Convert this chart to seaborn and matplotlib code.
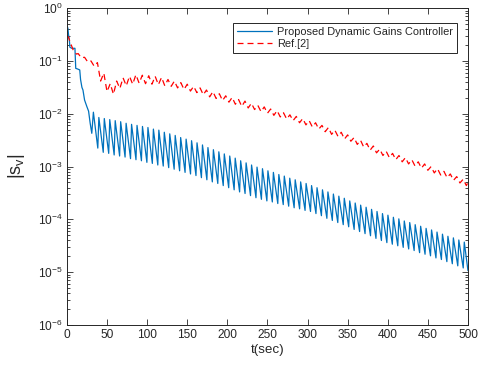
import numpy as np
import pandas as pd
import matplotlib
matplotlib.use("Agg")
import matplotlib.pyplot as plt
from matplotlib.ticker import LogLocator, FixedLocator, LogFormatterMathtext, NullFormatter
import seaborn as sns

# ---------------------------------------------------------------------------
# Data: |s_v| for the two controllers (values stored as log10 exponents)
# ---------------------------------------------------------------------------
series_names = ["Proposed Dynamic Gains Controller", "Ref.[2]"]

# Proposed controller: transient before the oscillation sets in
blue_start_t = [0, 0.5, 1.2, 2, 3, 3.7, 6, 10, 11, 13, 16, 17, 18.7, 20, 22, 25, 27, 29, 31]
blue_start_log10 = [-0.45, -0.35, -0.38, -0.50, -0.60, -0.74, -0.76, -0.76, -1.14, -1.15,
                    -1.17, -1.35, -1.50, -1.55, -1.74, -1.87, -1.95, -2.18, -2.37]

# Proposed controller: oscillation peaks and troughs
blue_peak_t = [33.0, 39.8, 46.6, 53.4, 60.2, 67.0, 73.8, 80.6, 87.4, 94.2, 101.0, 107.8,
               114.6, 121.4, 128.2, 135.0, 141.8, 148.6, 155.4, 162.2, 169.0, 175.8, 182.6,
               189.4, 196.2, 203.0, 209.8, 216.6, 223.4, 230.2, 237.0, 243.8, 250.6, 257.4,
               264.2, 271.0, 277.8, 284.6, 291.4, 298.2, 305.0, 311.8, 318.6, 325.4, 332.2,
               339.0, 345.8, 352.6, 359.4, 366.2, 373.0, 379.8, 386.6, 393.4, 400.2, 407.0,
               413.8, 420.6, 427.4, 434.2, 441.0, 447.8, 454.6, 461.4, 468.2, 475.0, 481.8,
               488.6, 495.4]
blue_peak_log10 = [-1.97, -2.07, -2.09, -2.11, -2.13, -2.15, -2.18, -2.20, -2.22, -2.24,
                   -2.26, -2.29, -2.31, -2.35, -2.38, -2.41, -2.45, -2.48, -2.51, -2.55,
                   -2.59, -2.64, -2.68, -2.72, -2.76, -2.80, -2.84, -2.89, -2.93, -2.97,
                   -3.01, -3.04, -3.08, -3.11, -3.15, -3.18, -3.22, -3.25, -3.29, -3.32,
                   -3.36, -3.40, -3.44, -3.48, -3.52, -3.56, -3.60, -3.65, -3.69, -3.73,
                   -3.77, -3.81, -3.85, -3.89, -3.92, -3.96, -3.99, -4.03, -4.06, -4.10,
                   -4.13, -4.17, -4.20, -4.24, -4.28, -4.32, -4.35, -4.39, -4.43]
blue_trough_t = [38.5, 45.3, 52.1, 58.9, 65.7, 72.5, 79.3, 86.1, 92.9, 99.7, 106.5, 113.3,
                 120.1, 126.9, 133.7, 140.5, 147.3, 154.1, 160.9, 167.7, 174.5, 181.3, 188.1,
                 194.9, 201.7, 208.5, 215.3, 222.1, 228.9, 235.7, 242.5, 249.3, 256.1, 262.9,
                 269.7, 276.5, 283.3, 290.1, 296.9, 303.7, 310.5, 317.3, 324.1, 330.9, 337.7,
                 344.5, 351.3, 358.1, 364.9, 371.7, 378.5, 385.3, 392.1, 398.9, 405.7, 412.5,
                 419.3, 426.1, 432.9, 439.7, 446.5, 453.3, 460.1, 466.9, 473.7, 480.5, 487.3,
                 494.1, 500.0]
blue_trough_log10 = [-2.65, -2.73, -2.75, -2.78, -2.80, -2.82, -2.85, -2.87, -2.89, -2.92,
                     -2.94, -2.97, -2.99, -3.02, -3.05, -3.08, -3.11, -3.14, -3.17, -3.21,
                     -3.25, -3.29, -3.32, -3.36, -3.40, -3.44, -3.48, -3.51, -3.55, -3.59,
                     -3.62, -3.65, -3.67, -3.70, -3.72, -3.75, -3.78, -3.80, -3.83, -3.85,
                     -3.89, -3.93, -3.98, -4.02, -4.06, -4.10, -4.14, -4.19, -4.23, -4.27,
                     -4.31, -4.36, -4.40, -4.44, -4.47, -4.50, -4.53, -4.56, -4.59, -4.63,
                     -4.66, -4.69, -4.73, -4.76, -4.80, -4.84, -4.88, -4.92, -4.97]

# Ref.[2]: transient
red_start_t = [0, 2, 4, 6, 8, 10, 12, 14, 18, 22, 26, 30, 34]
red_start_log10 = [-0.52, -0.55, -0.64, -0.72, -0.80, -0.84, -0.87, -0.86, -0.94, -0.93,
                   -1.02, -1.00, -1.10]

# Ref.[2]: ripple highs and lows
red_high_t = [38, 46, 54, 62, 70, 78, 86, 94, 102, 110, 118, 126, 134, 142, 150, 158, 166,
              174, 182, 190, 198, 206, 214, 222, 230, 238, 246, 254, 262, 270, 278, 286, 294,
              302, 310, 318, 326, 334, 342, 350, 358, 366, 374, 382, 390, 398, 406, 414, 422,
              430, 438, 446, 454, 462, 470, 478, 486, 494]
red_high_log10 = [-1.03, -1.23, -1.43, -1.38, -1.32, -1.29, -1.26, -1.27, -1.28, -1.29,
                  -1.31, -1.35, -1.38, -1.41, -1.44, -1.48, -1.51, -1.55, -1.58, -1.62,
                  -1.66, -1.69, -1.73, -1.76, -1.80, -1.84, -1.87, -1.91, -1.94, -1.98,
                  -2.02, -2.05, -2.09, -2.13, -2.17, -2.22, -2.26, -2.31, -2.35, -2.40,
                  -2.45, -2.50, -2.56, -2.61, -2.67, -2.71, -2.75, -2.79, -2.83, -2.87,
                  -2.91, -2.95, -3.00, -3.04, -3.09, -3.14, -3.19, -3.24]
red_low_t = [42, 50, 58, 66, 74, 82, 90, 98, 106, 114, 122, 130, 138, 146, 154, 162, 170,
             178, 186, 194, 202, 210, 218, 226, 234, 242, 250, 258, 266, 274, 282, 290, 298,
             306, 314, 322, 330, 338, 346, 354, 362, 370, 378, 386, 394, 402, 410, 418, 426,
             434, 442, 450, 458, 466, 474, 482, 490, 498]
red_low_log10 = [-1.38, -1.58, -1.63, -1.52, -1.47, -1.44, -1.42, -1.43, -1.44, -1.45,
                 -1.47, -1.48, -1.51, -1.54, -1.57, -1.60, -1.64, -1.68, -1.71, -1.75,
                 -1.78, -1.82, -1.86, -1.89, -1.92, -1.96, -1.99, -2.03, -2.06, -2.10,
                 -2.13, -2.17, -2.21, -2.25, -2.29, -2.34, -2.39, -2.43, -2.48, -2.52,
                 -2.58, -2.63, -2.69, -2.74, -2.79, -2.83, -2.87, -2.91, -2.95, -2.99,
                 -3.03, -3.07, -3.12, -3.16, -3.21, -3.26, -3.31, -3.36]
red_end_t = [500]
red_end_log10 = [-3.30]

x_ticks = [0, 50, 100, 150, 200, 250, 300, 350, 400, 450, 500]
y_ticks = [1e-6, 1e-5, 1e-4, 1e-3, 1e-2, 1e-1, 1e0]


def zigzag(t_start, v_start, t_hi, v_hi, t_lo, v_lo, t_end=(), v_end=()):
    """Join a transient with alternating high/low vertices into one ordered trace."""
    ts = list(t_start)
    vs = list(v_start)
    for a, b, c, d in zip(t_hi, v_hi, t_lo, v_lo):
        ts += [a, c]
        vs += [b, d]
    ts += list(t_end)
    vs += list(v_end)
    return np.array(ts, dtype=float), 10.0 ** np.array(vs, dtype=float)


bt, bv = zigzag(blue_start_t, blue_start_log10, blue_peak_t, blue_peak_log10,
                blue_trough_t, blue_trough_log10)
rt, rv = zigzag(red_start_t, red_start_log10, red_high_t, red_high_log10,
                red_low_t, red_low_log10, red_end_t, red_end_log10)

df = pd.concat([
    pd.DataFrame({"t": bt, "sv": bv, "series": series_names[0]}),
    pd.DataFrame({"t": rt, "sv": rv, "series": series_names[1]}),
], ignore_index=True)

# ---------------------------------------------------------------------------
# Style
# ---------------------------------------------------------------------------
sns.set_style("white")
plt.rcParams["font.family"] = ["Liberation Sans", "DejaVu Sans"]
plt.rcParams["mathtext.fontset"] = "custom"
plt.rcParams["mathtext.rm"] = "Liberation Sans"
plt.rcParams["mathtext.it"] = "Liberation Sans"
plt.rcParams["mathtext.default"] = "regular"

axis_color = "#262626"
fig = plt.figure(figsize=(4.78, 3.71), dpi=100)
ax = fig.add_axes([0.140, 0.124, 0.839, 0.854])

palette = {series_names[0]: "#0072BD", series_names[1]: "#FF0000"}
styles = {series_names[0]: "-", series_names[1]: (0, (4.8, 3.2))}

for name in series_names:
    sub = df[df["series"] == name]
    sns.lineplot(x=sub["t"].to_numpy(), y=sub["sv"].to_numpy(), sort=False, estimator=None,
                 color=palette[name], lw=0.9, linestyle=styles[name], ax=ax, label=name)

ax.set_yscale("log")
ax.set_xlim(0, 500)
ax.set_ylim(1e-6, 1e0)
ax.xaxis.set_major_locator(FixedLocator(x_ticks))
ax.yaxis.set_major_locator(FixedLocator(y_ticks))
ax.yaxis.set_major_formatter(LogFormatterMathtext())
ax.yaxis.set_minor_locator(LogLocator(base=10, subs=np.arange(2, 10), numticks=20))
ax.yaxis.set_minor_formatter(NullFormatter())

for s in ax.spines.values():
    s.set_color(axis_color)
    s.set_linewidth(0.7)
ax.tick_params(which="both", direction="in", bottom=True, left=True, top=True, right=True,
               colors=axis_color, labelcolor=axis_color, width=0.6)
ax.tick_params(which="major", length=4, labelsize=8.6, pad=3)
ax.tick_params(which="minor", length=2.2)

ax.set_xlabel("t(sec)", fontsize=9.6, color=axis_color, labelpad=2)
ax.set_ylabel(r"$|s_v|$", fontsize=13, color=axis_color, labelpad=8)

leg = ax.legend(loc="upper right", bbox_to_anchor=(0.9726, 0.9527), borderaxespad=0,
                fontsize=7.9, frameon=True, fancybox=False, handlelength=3.2,
                handletextpad=0.5, borderpad=0.35, labelspacing=0.2)
leg.get_frame().set_edgecolor(axis_color)
leg.get_frame().set_linewidth(0.7)
leg.get_frame().set_alpha(1)

fig.savefig("out.png", dpi=100)
